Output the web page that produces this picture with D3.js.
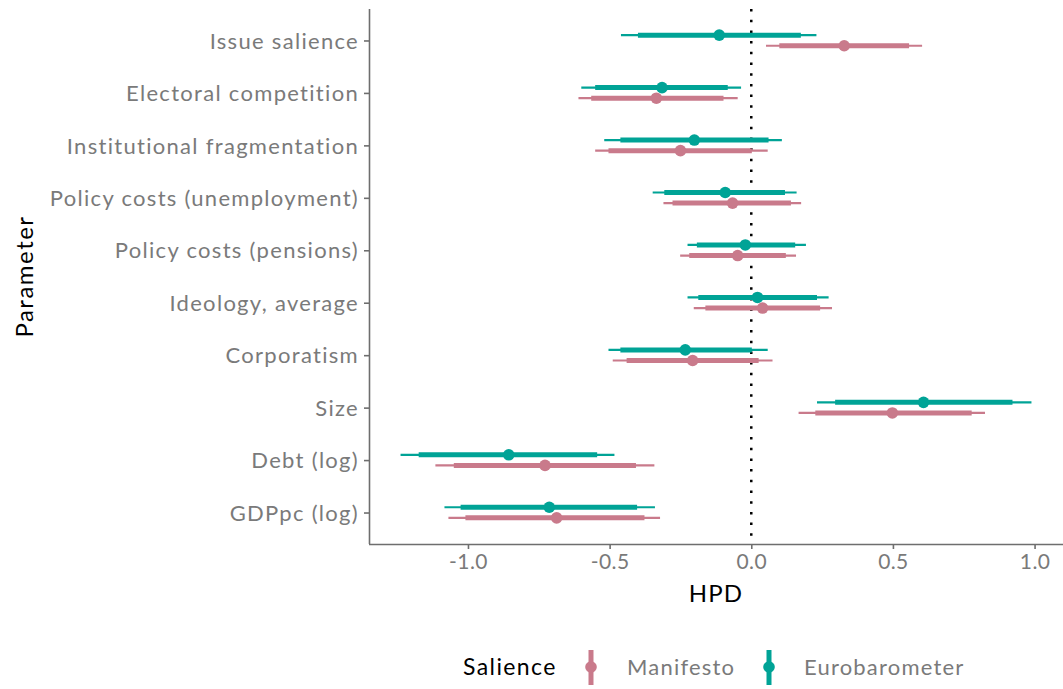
<!DOCTYPE html>
<html><head><meta charset="utf-8">
<script src="https://cdn.jsdelivr.net/npm/d3@7"></script>
<style>body{margin:0;background:#fff;} text{font-family:Lato,"DejaVu Sans",sans-serif;}</style>
</head><body>
<svg id="c" width="1063" height="689"></svg>
<script>
const parameters = ["Issue salience","Electoral competition","Institutional fragmentation","Policy costs (unemployment)","Policy costs (pensions)","Ideology, average","Corporatism","Size","Debt (log)","GDPpc (log)"];
const seriesNames = ["Manifesto","Eurobarometer"];
const seriesColors = ["#C97A8B","#00A396"];
// [median, thick low, thick high, thin low, thin high]
const manifesto = [
  [0.328, 0.099, 0.557, 0.052, 0.603],
  [-0.335, -0.565, -0.098, -0.61, -0.048],
  [-0.25, -0.504, 0.002, -0.551, 0.058],
  [-0.066, -0.278, 0.14, -0.31, 0.176],
  [-0.048, -0.219, 0.122, -0.251, 0.158],
  [0.04, -0.162, 0.243, -0.203, 0.285],
  [-0.207, -0.44, 0.026, -0.489, 0.075],
  [0.498, 0.226, 0.778, 0.167, 0.825],
  [-0.728, -1.05, -0.407, -1.115, -0.342],
  [-0.687, -1.009, -0.377, -1.069, -0.322]
];
const eurobarometer = [
  [-0.113, -0.40, 0.175, -0.46, 0.23],
  [-0.315, -0.551, -0.083, -0.60, -0.036],
  [-0.201, -0.462, 0.061, -0.519, 0.108],
  [-0.092, -0.307, 0.119, -0.348, 0.16],
  [-0.021, -0.192, 0.155, -0.225, 0.193],
  [0.022, -0.187, 0.232, -0.225, 0.273],
  [-0.233, -0.462, 0.002, -0.504, 0.058],
  [0.608, 0.296, 0.922, 0.232, 0.989],
  [-0.856, -1.174, -0.544, -1.238, -0.483],
  [-0.713, -1.026, -0.403, -1.083, -0.34]
];
const xTicks = [-1.0, -0.5, 0.0, 0.5, 1.0];

const svg = d3.select("#c");
const L = 369, R = 1063, T = 9, B = 544;
const all = manifesto.concat(eurobarometer).flat();
const mn = d3.min(all), mx = d3.max(all), pad = (mx - mn) * 0.05;
const x = d3.scaleLinear().domain([mn - pad, mx + pad]).range([L, R]);
const y = d3.scalePoint().domain(parameters).range([T, B]).padding(0.6);
const dodge = 5.3;
const series = [
  {name: seriesNames[0], data: manifesto, color: seriesColors[0], off: dodge},
  {name: seriesNames[1], data: eurobarometer, color: seriesColors[1], off: -dodge}
];

// dotted zero line
svg.append("line").attr("x1", x(0)).attr("x2", x(0)).attr("y1", T).attr("y2", B)
  .attr("stroke", "#000").attr("stroke-width", 2.5).attr("stroke-dasharray", "2.5,8.2");

series.forEach(s => {
  const g = svg.append("g");
  s.data.forEach((d, i) => {
    const yy = y(parameters[i]) + s.off;
    g.append("line").attr("x1", x(d[3])).attr("x2", x(d[4])).attr("y1", yy).attr("y2", yy)
      .attr("stroke", s.color).attr("stroke-width", 2.2);
    g.append("line").attr("x1", x(d[1])).attr("x2", x(d[2])).attr("y1", yy).attr("y2", yy)
      .attr("stroke", s.color).attr("stroke-width", 5);
    g.append("circle").attr("cx", x(d[0])).attr("cy", yy).attr("r", 5.8).attr("fill", s.color);
  });
});

// axes
const axisColor = "#6e6e6e", labColor = "#7a7a7a";
const xa = svg.append("g").attr("transform", `translate(0,${B})`)
  .call(d3.axisBottom(x).tickValues(xTicks).tickFormat(d3.format(".1f")).tickSize(5).tickPadding(4).tickSizeOuter(0));
xa.select(".domain").attr("stroke", axisColor).attr("stroke-width", 1.6).attr("d", `M${L},0.5H${R}`);
xa.selectAll(".tick line").attr("stroke", axisColor).attr("stroke-width", 1.6);
xa.selectAll(".tick text").attr("fill", labColor).attr("font-size", 21).attr("letter-spacing", 0.4).attr("dy", "0.75em")
  .text(d => d3.format(".1f")(d).replace("−", "-"));

const ya = svg.append("g").attr("transform", `translate(${L},0)`)
  .call(d3.axisLeft(y).tickSize(5).tickPadding(5).tickSizeOuter(0));
ya.select(".domain").attr("stroke", axisColor).attr("stroke-width", 1.6).attr("d", `M0.5,${T}V${B}`);
ya.selectAll(".tick line").attr("stroke", axisColor).attr("stroke-width", 1.6);
ya.selectAll(".tick text").attr("fill", labColor).attr("font-size", 22).attr("letter-spacing", 1.3).attr("dy", "0.35em");

// axis titles
svg.append("text").attr("x", (L + R) / 2).attr("y", 602).attr("text-anchor", "middle")
  .attr("font-size", 24).attr("letter-spacing", 1.2).attr("fill", "#000").text("HPD");
svg.append("text").attr("transform", `translate(33,${(T + B) / 2}) rotate(-90)`).attr("text-anchor", "middle")
  .attr("font-size", 24).attr("letter-spacing", 1.5).attr("fill", "#000").text("Parameter");

// legend
const lg = svg.append("g");
lg.append("text").attr("x", 463).attr("y", 675).attr("font-size", 23).attr("letter-spacing", 1.4).attr("fill", "#000").text("Salience");
const keyX = [591, 769], labX = [627, 804];
series.forEach((s, i) => {
  lg.append("line").attr("x1", keyX[i]).attr("x2", keyX[i]).attr("y1", 650).attr("y2", 685)
    .attr("stroke", s.color).attr("stroke-width", 5);
  lg.append("circle").attr("cx", keyX[i]).attr("cy", 667).attr("r", 5.8).attr("fill", s.color);
  lg.append("text").attr("x", labX[i]).attr("y", 675).attr("font-size", 22).attr("letter-spacing", 1.2).attr("fill", labColor).text(s.name);
});
</script>
</body></html>
